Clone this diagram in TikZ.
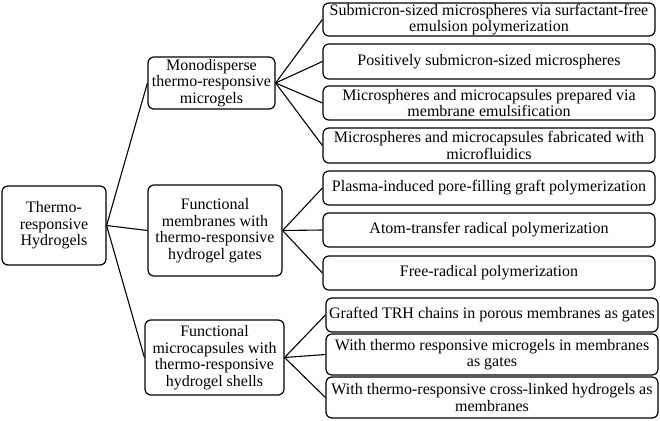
\documentclass[tikz,border=0pt]{standalone}
\usepackage{fontspec}
\setmainfont{Liberation Serif}
\usepackage{tikz}
\usetikzlibrary{calc}

\tikzset{
  hbox/.style={draw, line width=1.2pt, rounded corners=6pt, align=center, inner sep=0pt,
    font=\fontsize{16}{16.5}\selectfont},
  leaf/.style={hbox, minimum width=332pt},
  link/.style={line width=1.1pt}
}

\begin{document}
\begin{tikzpicture}[x=1pt,y=-1pt]
\useasboundingbox (0,0) rectangle (660,420);
% root
\node[hbox, minimum width=104pt, minimum height=79pt] (root) at (54,225.5) {Thermo-\\responsive\\Hydrogels};
% middle level
\node[hbox, minimum width=127pt, minimum height=52pt] (micro) at (211.5,83) {Monodisperse\\thermo-responsive\\microgels};
\node[hbox, minimum width=134pt, minimum height=91pt] (memb) at (215,230.5) {Functional\\membranes with\\thermo-responsive\\hydrogel gates};
\node[hbox, minimum width=139pt, minimum height=75pt] (caps) at (214.5,357.5) {Functional\\microcapsules with\\thermo-responsive\\hydrogel shells};
% leaves
\node[leaf, minimum height=33pt] (l1) at (489,19.5) {Submicron-sized microspheres via surfactant-free\\emulsion polymerization};
\node[leaf, minimum height=35pt] (l2) at (489,61.5) {Positively submicron-sized microspheres};
\node[leaf, minimum height=34pt] (l3) at (489,103) {Microspheres and microcapsules prepared via\\membrane emulsification};
\node[leaf, minimum height=35pt] (l4) at (489,145.5) {Microspheres and microcapsules fabricated with\\microfluidics};
\node[leaf, minimum height=34pt] (l5) at (489,188) {Plasma-induced pore-filling graft polymerization};
\node[leaf, minimum height=34pt] (l6) at (489,230) {Atom-transfer radical polymerization};
\node[leaf, minimum height=34pt] (l7) at (489,273) {Free-radical polymerization};
\node[leaf, minimum height=34pt] (l8) at (492,315) {Grafted TRH chains in porous membranes as gates};
\node[leaf, minimum height=41pt] (l9) at (492,354.5) {With thermo responsive microgels in membranes\\as gates};
\node[leaf, minimum height=41pt] (l10) at (492,397.5) {With thermo-responsive cross-linked hydrogels as\\membranes};
% connectors
\foreach \m in {micro,memb,caps}
  \draw[link] (root.east) -- (\m.west);
\foreach \l in {l1,l2,l3,l4}
  \draw[link] (micro.east) -- (\l.west);
\foreach \l in {l5,l6,l7}
  \draw[link] (memb.east) -- (\l.west);
\foreach \l in {l8,l9,l10}
  \draw[link] (caps.east) -- (\l.west);
\end{tikzpicture}
\end{document}
